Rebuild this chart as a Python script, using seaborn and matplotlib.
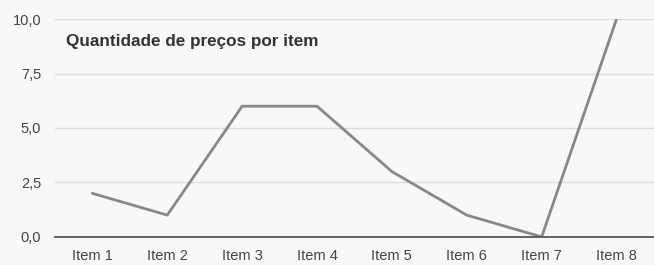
import pandas as pd
import seaborn as sns
import matplotlib.pyplot as plt
from matplotlib.ticker import FuncFormatter

# Dados do gráfico
itens = ["Item 1", "Item 2", "Item 3", "Item 4", "Item 5", "Item 6", "Item 7", "Item 8"]
quantidades = [2, 1, 6, 6, 3, 1, 0, 10]

df = pd.DataFrame({"item": itens, "quantidade": quantidades})

sns.set_style("white")
plt.rcParams["font.family"] = ["Liberation Sans", "DejaVu Sans"]

fig = plt.figure(figsize=(6.54, 2.65), dpi=100, facecolor="#f8f8f6")
ax = fig.add_axes([0.084, 0.106, 0.916, 0.822])
ax.set_facecolor("#f8f8f6")

sns.lineplot(data=df, x="item", y="quantidade", ax=ax, color="#888888",
             linewidth=2, sort=False)

ax.set_xlim(-0.5, len(itens) - 0.5)
ax.set_ylim(0, 10)
ax.set_yticks([0, 2.5, 5, 7.5, 10])
ax.yaxis.set_major_formatter(FuncFormatter(lambda v, p: f"{v:.1f}".replace(".", ",")))
ax.grid(axis="y", color="#dcdcdc", linewidth=1)
ax.set_axisbelow(True)

for s in ["top", "right", "left"]:
    ax.spines[s].set_visible(False)
ax.spines["bottom"].set_color("#555555")
ax.spines["bottom"].set_linewidth(1.3)

ax.tick_params(axis="both", length=0, labelsize=10.5, colors="#444444")
ax.tick_params(axis="y", pad=10)
ax.tick_params(axis="x", pad=9)
ax.set_xlabel("")
ax.set_ylabel("")

ax.text(0.018, 0.895, "Quantidade de preços por item", transform=ax.transAxes,
        fontsize=12.3, fontweight="bold", color="#333333", va="center")

fig.savefig("out.png", dpi=100, facecolor=fig.get_facecolor())
